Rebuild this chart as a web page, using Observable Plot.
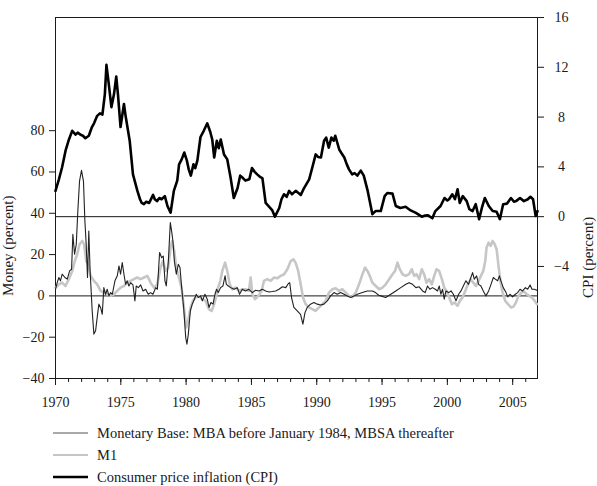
<!DOCTYPE html>
<html>
<head>
<meta charset="utf-8">
<script src="https://cdn.jsdelivr.net/npm/d3@7"></script>
<script src="https://cdn.jsdelivr.net/npm/@observablehq/plot@0.6"></script>
<style>
  body { margin: 0; background: #fff; font-family: "Liberation Serif", "DejaVu Serif", serif; color: #1a1a1a; }
  #chart svg { display: block; }
  #legend { margin: 7px 0 0 53px; font-size: 14.5px; }
  .row { display: flex; align-items: center; height: 22px; }
  .row svg { margin-right: 9px; }
</style>
</head>
<body>
<div id="chart"></div>
<div id="legend"></div>
<script>
// Consumer price inflation, percent (right-hand scale)
const cpiInflation = [
  [1970.0,2.07],[1970.26,3.0],[1970.5,3.95],[1970.77,5.3],[1971.03,6.2],[1971.28,6.9],[1971.54,6.6],
  [1971.7,6.75],[1971.89,6.6],[1972.1,6.5],[1972.29,6.3],[1972.55,6.5],[1972.79,7.2],[1972.95,7.5],
  [1973.19,8.1],[1973.4,8.3],[1973.59,8.2],[1973.78,9.85],[1973.9,12.2],[1974.08,10.65],[1974.28,8.8],
  [1974.48,9.85],[1974.65,11.25],[1974.78,9.85],[1974.98,7.2],[1975.24,9.05],[1975.38,8.0],[1975.68,6.1],
  [1975.93,3.4],[1976.27,2.07],[1976.47,1.4],[1976.6,1.1],[1976.77,1.0],[1976.95,1.2],[1977.17,1.1],
  [1977.47,1.75],[1977.6,1.4],[1977.77,1.25],[1977.95,1.5],[1978.12,1.4],[1978.37,1.65],[1978.57,0.86],
  [1978.81,0.32],[1979.06,2.07],[1979.32,2.9],[1979.46,4.2],[1979.66,4.6],[1979.86,5.15],[1980.06,4.5],
  [1980.2,3.8],[1980.36,3.3],[1980.56,4.2],[1980.7,3.9],[1980.86,4.5],[1981.1,6.4],[1981.35,6.9],
  [1981.62,7.5],[1981.85,6.8],[1982.0,6.2],[1982.15,4.75],[1982.35,6.1],[1982.5,5.5],[1982.65,6.2],
  [1982.9,5.0],[1983.15,4.6],[1983.41,3.1],[1983.65,1.5],[1983.94,2.3],[1984.14,3.3],[1984.35,3.1],
  [1984.54,2.9],[1984.84,3.0],[1985.04,3.9],[1985.25,3.6],[1985.44,3.4],[1985.65,3.2],[1985.84,3.1],
  [1986.09,1.1],[1986.43,0.7],[1986.6,0.5],[1986.8,0.0],[1987.13,0.7],[1987.3,1.4],[1987.49,1.8],
  [1987.7,1.6],[1987.88,2.07],[1988.1,1.8],[1988.39,2.07],[1988.6,1.9],[1988.78,1.75],[1989.03,2.3],
  [1989.42,3.0],[1989.66,3.95],[1989.92,5.0],[1990.1,4.8],[1990.32,4.75],[1990.56,6.1],[1990.72,6.35],
  [1990.92,5.55],[1991.12,6.35],[1991.3,6.1],[1991.42,6.5],[1991.72,5.4],[1991.9,5.1],[1992.11,4.75],
  [1992.3,4.2],[1992.47,3.8],[1992.71,3.4],[1992.9,3.5],[1993.11,3.3],[1993.37,3.7],[1993.6,3.3],
  [1993.9,2.07],[1994.26,0.2],[1994.5,0.45],[1994.9,0.45],[1995.2,1.65],[1995.4,1.9],[1995.8,1.85],
  [1996.05,0.86],[1996.4,0.7],[1996.8,0.8],[1997.19,0.5],[1997.59,0.3],[1998.04,0.0],[1998.3,0.1],
  [1998.49,0.12],[1998.85,-0.13],[1999.08,0.45],[1999.48,0.86],[1999.78,1.5],[2000.0,1.3],[2000.13,1.4],
  [2000.38,1.8],[2000.58,1.4],[2000.78,2.2],[2000.95,1.1],[2001.18,1.65],[2001.48,1.25],[2001.68,0.6],
  [2001.93,0.45],[2002.17,1.0],[2002.43,-0.2],[2002.64,0.7],[2002.87,1.5],[2003.17,0.86],[2003.47,0.45],
  [2003.77,0.4],[2004.02,-0.2],[2004.27,1.0],[2004.57,1.05],[2004.87,1.5],[2005.1,1.2],[2005.26,1.25],
  [2005.56,1.5],[2005.86,1.25],[2006.16,1.4],[2006.36,1.6],[2006.56,1.4],[2006.76,0.05],[2006.9,0.45]
];

// Monetary base growth, percent: MBA before January 1984, MBSA thereafter
const monetaryBase = [
  [1970.0,3.2],[1970.13,6.4],[1970.26,8.9],[1970.38,7.3],[1970.51,10.5],[1970.72,8.9],[1970.9,8.1],
  [1971.08,12.1],[1971.23,12.9],[1971.33,29.8],[1971.46,20.2],[1971.59,25],[1971.71,41.1],[1971.84,55.6],
  [1971.99,60.8],[1972.14,55.6],[1972.25,36.3],[1972.35,25],[1972.45,8.9],[1972.55,31.4],[1972.65,12.1],
  [1972.81,-7.3],[1972.94,-18.5],[1973.07,-16.9],[1973.19,-10.5],[1973.32,-4.0],[1973.45,-5.6],
  [1973.58,-8.9],[1973.7,4.0],[1973.83,0.8],[1973.96,3.2],[1974.09,0],[1974.22,1.6],[1974.35,0.8],
  [1974.55,7.3],[1974.73,9.7],[1974.86,14.5],[1974.98,10.5],[1975.11,16.1],[1975.24,10.5],[1975.37,5.6],
  [1975.49,7.3],[1975.62,4.8],[1975.75,6.4],[1975.93,5.3],[1976.08,-2.4],[1976.18,4.8],[1976.34,4.0],
  [1976.52,5.3],[1976.7,2.4],[1976.9,3.2],[1977.1,0.8],[1977.28,1.6],[1977.46,0.8],[1977.67,4.0],
  [1977.8,3.2],[1977.97,21],[1978.13,18.5],[1978.25,19.3],[1978.38,7.3],[1978.48,4.8],[1978.64,16.9],
  [1978.79,35.5],[1978.89,31.4],[1978.99,26.6],[1979.1,16.9],[1979.25,10.5],[1979.4,15.3],[1979.53,13.7],
  [1979.66,4.0],[1979.81,-5.6],[1979.97,-20.2],[1980.06,-23.4],[1980.17,-18.5],[1980.32,-7.3],
  [1980.47,-4.0],[1980.63,-1.6],[1980.78,0.8],[1980.93,-0.8],[1981.11,0],[1981.24,-2.4],[1981.44,0.8],
  [1981.62,-1.6],[1981.75,-5.6],[1981.9,-3.2],[1982.06,-4.0],[1982.21,0.8],[1982.33,3.2],[1982.46,1.6],
  [1982.64,4.0],[1982.82,4.8],[1982.98,9.7],[1983.08,5.6],[1983.23,4.8],[1983.41,4.0],[1983.67,3.2],
  [1983.92,4.0],[1984.09,0.8],[1984.3,3.2],[1984.54,2.4],[1984.8,3.2],[1985.07,1.6],[1985.32,2.7],
  [1985.58,2.4],[1985.83,3.2],[1986.09,2.4],[1986.35,1.9],[1986.6,2.1],[1986.86,2.4],[1987.11,3.2],
  [1987.37,4.4],[1987.63,4.0],[1987.83,6.0],[1987.93,6.4],[1988.07,-0.8],[1988.25,-5.6],[1988.51,-7.3],
  [1988.76,-8.9],[1988.94,-13.7],[1989.1,-8.1],[1989.27,-5.6],[1989.52,-4.0],[1989.78,-3.2],
  [1990.04,-4.0],[1990.3,-4.4],[1990.55,-4.0],[1990.81,-2.4],[1991.06,0],[1991.32,1.6],[1991.57,0.8],
  [1991.83,1.6],[1992.09,0.8],[1992.34,0],[1992.6,-0.8],[1992.85,0],[1993.11,0.8],[1993.49,1.6],
  [1993.87,2.4],[1994.26,2.4],[1994.5,1.6],[1994.75,0.3],[1994.9,0],[1995.28,-0.8],[1995.67,0.8],
  [1996.05,2.4],[1996.43,4.0],[1996.82,5.6],[1997.07,6.4],[1997.33,5.6],[1997.59,4.0],[1997.84,4.4],
  [1998.1,2.4],[1998.3,1.6],[1998.48,4.8],[1998.66,3.2],[1998.86,4.0],[1999.07,3.2],[1999.25,2.4],
  [1999.38,4.8],[1999.5,0.8],[1999.63,3.2],[1999.76,-1.6],[1999.89,2.4],[2000.1,1.6],[2000.28,2.4],
  [2000.46,0.8],[2000.66,-2.4],[2000.86,0.8],[2001.04,2.4],[2001.22,4.8],[2001.42,7.3],[2001.62,5.6],
  [2001.8,8.9],[2001.93,11.3],[2002.06,8.1],[2002.24,9.7],[2002.39,5.6],[2002.57,4.8],[2002.75,2.4],
  [2002.95,0],[2003.16,2.4],[2003.34,5.6],[2003.52,8.9],[2003.67,8.1],[2003.85,7.3],[2003.98,9.7],
  [2004.1,7.3],[2004.28,4.0],[2004.49,1.6],[2004.62,-0.5],[2004.79,0.8],[2004.99,-0.5],[2005.2,0.8],
  [2005.38,1.6],[2005.56,3.2],[2005.76,2.4],[2005.97,4.0],[2006.15,3.2],[2006.33,5.3],[2006.48,3.2],
  [2006.66,3.2],[2006.84,2.7]
];

// M1 growth, percent
const m1 = [
  [1970.0,4.0],[1970.26,5.6],[1970.51,6.4],[1970.77,4.8],[1971.02,8.1],[1971.28,12.1],[1971.48,16.9],
  [1971.66,20.2],[1971.84,25],[1972.04,26.6],[1972.19,25],[1972.35,16.9],[1972.5,15.3],[1972.68,9.7],
  [1972.94,7.3],[1973.19,5.6],[1973.45,2.4],[1973.7,1.6],[1973.96,0.8],[1974.21,0],[1974.47,0.8],
  [1974.73,2.4],[1974.98,4.0],[1975.24,4.8],[1975.49,6.4],[1975.75,7.3],[1976.0,8.1],[1976.26,8.9],
  [1976.52,8.1],[1976.77,8.9],[1977.03,9.7],[1977.28,6.4],[1977.54,4.0],[1977.79,5.6],[1978.04,13.7],
  [1978.22,16.9],[1978.43,12.1],[1978.63,13.7],[1978.81,23.4],[1978.93,26.6],[1979.09,21.8],
  [1979.24,13.7],[1979.45,8.9],[1979.65,4.0],[1979.83,-5.6],[1980.01,-15.3],[1980.16,-12.1],
  [1980.34,-5.6],[1980.52,-2.4],[1980.72,-0.8],[1980.98,0],[1981.23,-1.6],[1981.49,-2.4],[1981.74,-6.4],
  [1981.95,-7.3],[1982.15,-4.0],[1982.45,4.0],[1982.62,7.3],[1982.77,12.1],[1982.98,16.1],[1983.15,12.1],
  [1983.34,5.6],[1983.54,3.2],[1983.8,4.0],[1984.05,2.4],[1984.31,3.2],[1984.56,3.2],[1984.81,2.4],
  [1984.94,8.9],[1985.07,0.8],[1985.27,-1.6],[1985.53,0],[1985.78,2.4],[1985.96,7.3],[1986.22,8.1],
  [1986.47,7.3],[1986.73,8.9],[1986.99,8.5],[1987.24,9.7],[1987.5,10.5],[1987.75,12.9],[1988.01,16.9],
  [1988.21,17.7],[1988.38,16.1],[1988.58,12.1],[1988.77,5.6],[1988.95,-0.8],[1989.15,-4.0],
  [1989.41,-5.6],[1989.66,-6.4],[1989.91,-7.3],[1990.17,-5.6],[1990.43,-4.0],[1990.68,-2.4],
  [1990.94,1.6],[1991.2,3.2],[1991.45,3.7],[1991.71,2.4],[1991.96,3.2],[1992.22,1.6],[1992.47,0],
  [1992.73,-0.5],[1992.99,1.6],[1993.24,5.6],[1993.5,10.5],[1993.7,13.7],[1993.88,12.1],[1994.06,9.7],
  [1994.26,6.4],[1994.52,4.8],[1994.78,3.2],[1995.03,4.0],[1995.28,5.6],[1995.54,8.1],[1995.8,10.5],
  [1996.0,12.1],[1996.18,16.1],[1996.36,12.9],[1996.56,10.5],[1996.82,9.7],[1997.07,10.5],[1997.28,12.9],
  [1997.46,9.7],[1997.64,10.5],[1997.84,8.1],[1998.04,12.9],[1998.22,10.5],[1998.4,6.4],[1998.6,8.1],
  [1998.81,5.6],[1998.99,9.7],[1999.17,12.9],[1999.37,12.1],[1999.58,8.1],[1999.76,4.0],[1999.94,2.4],
  [2000.14,-0.8],[2000.35,-4.0],[2000.55,-3.2],[2000.78,-4.8],[2000.96,-2.4],[2001.16,-0.8],
  [2001.37,2.4],[2001.57,5.6],[2001.78,8.1],[2001.98,6.4],[2002.19,4.8],[2002.39,7.3],[2002.57,9.7],
  [2002.75,12.1],[2002.9,16.9],[2003.0,23.4],[2003.16,25.8],[2003.31,24.2],[2003.46,26.6],[2003.62,25],
  [2003.77,22.6],[2003.93,13.7],[2004.08,6.4],[2004.23,1.6],[2004.43,-2.4],[2004.64,-4.0],[2004.87,-5.6],
  [2005.05,-5.3],[2005.25,-3.2],[2005.45,0],[2005.66,1.6],[2005.86,2.1],[2006.07,0.8],[2006.27,0],
  [2006.48,-0.8],[2006.68,-2.4],[2006.86,-4.0]
];

// Tick values
const moneyTicks = [-40, -20, 0, 20, 40, 60, 80];
const cpiTicks = [-4, 0, 4, 8, 12, 16];
const yearLabels = [1970, 1975, 1980, 1985, 1990, 1995, 2000, 2005];
const yearMinor = d3.range(1970, 2007);

// The CPI series shares the money y scale: 0% CPI sits at 38.36 on the
// money axis and each CPI point spans 6.0275 money points.
const cpiZero = 38.36, cpiUnit = 6.0275;
const toMoney = (c) => cpiZero + c * cpiUnit;
const fromMoney = (m) => (m - cpiZero) / cpiUnit;
const minus = (v) => (v < 0 ? "\u2212" + Math.abs(v) : String(v));

const chart = Plot.plot({
  width: 597,
  height: 415,
  marginLeft: 55,
  marginRight: 60,
  marginTop: 17,
  marginBottom: 37,
  style: { fontFamily: "'Liberation Serif', serif", fontSize: "14px", color: "#1a1a1a", background: "#fff" },
  x: { domain: [1970, 2006.9] },
  y: { domain: [-40, 134.8] },
  marks: [
    Plot.frame({ stroke: "#1a1a1a", strokeWidth: 1 }),
    Plot.ruleY([0, toMoney(0)], { stroke: "#1a1a1a", strokeWidth: 1 }),
    Plot.axisX({ ticks: yearMinor, tickSize: 4, text: null, label: null }),
    Plot.axisX({ ticks: yearLabels, tickSize: 7, tickPadding: 12, tickFormat: (d) => String(d), label: null, fontSize: 14 }),
    Plot.axisY({ ticks: moneyTicks, tickSize: 6, tickPadding: 5, label: null, fontSize: 14 }),
    Plot.axisY({
      anchor: "right",
      ticks: cpiTicks.map(toMoney),
      tickSize: 6,
      tickPadding: 18,
      textAnchor: "middle",
      tickFormat: (d) => minus(Math.round(fromMoney(d))),
      label: null,
      fontSize: 14
    }),
    Plot.line(m1, { x: (d) => d[0], y: (d) => d[1], stroke: "#c6c6c6", strokeWidth: 2.6 }),
    Plot.line(monetaryBase, { x: (d) => d[0], y: (d) => d[1], stroke: "#222", strokeWidth: 1.1 }),
    Plot.line(cpiInflation, { x: (d) => d[0], y: (d) => toMoney(d[1]), stroke: "#000", strokeWidth: 2.6 }),
    Plot.text([{ y: 0, t: "Money (percent)" }], {
      y: "y", text: "t", frameAnchor: "left", dx: -47, rotate: -90, fontSize: 15
    }),
    Plot.text([{ y: toMoney(0), t: "CPI (percent)" }], {
      y: "y", text: "t", frameAnchor: "right", dx: 51, rotate: -90, fontSize: 15
    })
  ]
});
document.getElementById("chart").appendChild(chart);

// Legend below the plot
const legendItems = [
  { label: "Monetary Base: MBA before January 1984, MBSA thereafter", color: "#555", width: 1.2 },
  { label: "M1", color: "#c6c6c6", width: 2 },
  { label: "Consumer price inflation (CPI)", color: "#000", width: 2.6 }
];
const legend = d3.select("#legend");
for (const item of legendItems) {
  const row = legend.append("div").attr("class", "row");
  const sw = row.append("svg").attr("width", 35).attr("height", 10);
  sw.append("line").attr("x1", 0).attr("x2", 35).attr("y1", 5).attr("y2", 5)
    .attr("stroke", item.color).attr("stroke-width", item.width);
  row.append("span").text(item.label);
}
</script>
</body>
</html>
